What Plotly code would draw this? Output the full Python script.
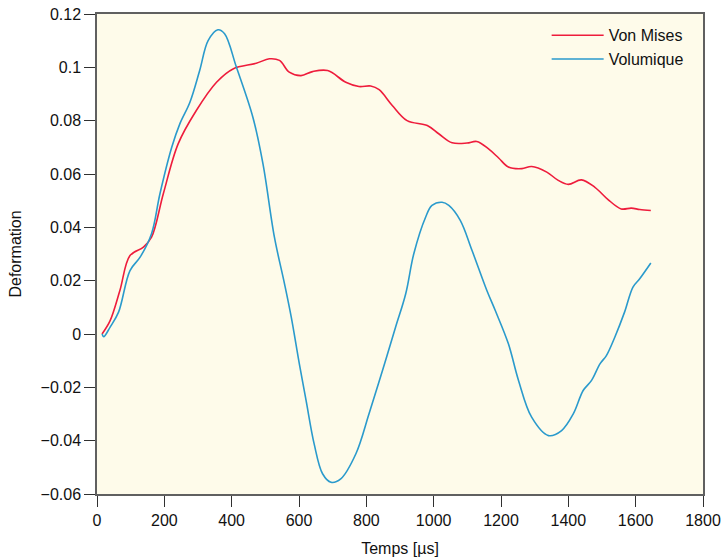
import plotly.graph_objects as go

# Von Mises series
x_vm = [15, 39, 68, 98, 138, 162, 197, 241, 295, 355, 404, 473, 512, 542, 571, 606, 640, 685,
        739, 778, 813, 838, 877, 921, 981, 1015, 1055, 1099, 1128, 1163, 1193, 1222, 1262, 1291,
        1336, 1370, 1400, 1439, 1479, 1518, 1557, 1587, 1612, 1645]
y_vm = [0, 0.005, 0.0163, 0.0294, 0.0326, 0.0363, 0.0526, 0.0713, 0.0838, 0.0944, 0.0994, 0.1015,
        0.1032, 0.1026, 0.0982, 0.0969, 0.0984, 0.0988, 0.0944, 0.0928, 0.093, 0.0916, 0.0857,
        0.080, 0.0782, 0.0751, 0.0717, 0.0716, 0.0722, 0.0694, 0.066, 0.0626, 0.062, 0.0628,
        0.0607, 0.0576, 0.0561, 0.0578, 0.055, 0.0504, 0.0469, 0.0472, 0.0467, 0.0463]

# Volumique series
x_vol = [15, 20, 39, 64, 98, 128, 162, 187, 222, 246, 276, 305, 330, 359, 379, 414, 463, 493, 527,
         557, 577, 601, 621, 645, 670, 695, 724, 769, 808, 848, 887, 917, 941, 976, 995, 1025, 1045,
         1079, 1114, 1158, 1183, 1222, 1252, 1291, 1341, 1380, 1415, 1444, 1469, 1494, 1513, 1538,
         1567, 1592, 1612, 1645]
y_vol = [0, -0.001, 0.0026, 0.0082, 0.0238, 0.0288, 0.0376, 0.0526, 0.070, 0.0788, 0.0869, 0.0988,
         0.110, 0.1141, 0.1126, 0.1001, 0.0813, 0.0638, 0.0363, 0.0188, 0.0063, -0.0112, -0.0249,
         -0.0412, -0.0524, -0.0556, -0.0543, -0.0449, -0.0299, -0.0137, 0.0026, 0.0151, 0.0301,
         0.0438, 0.0482, 0.0494, 0.0482, 0.0426, 0.0313, 0.0163, 0.0088, -0.0037, -0.0174, -0.0312,
         -0.0381, -0.0362, -0.0299, -0.0212, -0.0174, -0.0112, -0.0081, -0.0012, 0.0082, 0.0176,
         0.0207, 0.0266]

x_ticks = [0, 200, 400, 600, 800, 1000, 1200, 1400, 1600, 1800]
y_ticks = [-0.06, -0.04, -0.02, 0, 0.02, 0.04, 0.06, 0.08, 0.1, 0.12]
y_labels = ["\u22120.06", "\u22120.04", "\u22120.02", "0", "0.02", "0.04", "0.06", "0.08", "0.1", "0.12"]

FONT = "Liberation Sans, Arial, sans-serif"

fig = go.Figure()
fig.add_trace(go.Scatter(x=x_vm, y=y_vm, mode="lines", name="Von Mises",
                         line=dict(color="#EE1C3C", width=1.6, shape="spline", smoothing=1.0)))
fig.add_trace(go.Scatter(x=x_vol, y=y_vol, mode="lines", name="Volumique",
                         line=dict(color="#2A9ACC", width=1.6, shape="spline", smoothing=1.0)))

axis_common = dict(showgrid=False, zeroline=False, showline=True, linecolor="#606060",
                   linewidth=1.5, mirror=True, ticks="outside", ticklen=11, tickwidth=1.2,
                   tickcolor="#303030", automargin=False,
                   tickfont=dict(family=FONT, size=16, color="#111"))

fig.update_layout(
    width=725, height=557,
    margin=dict(l=97, r=22, t=14, b=63),
    paper_bgcolor="white",
    plot_bgcolor="#FEFBEA",
    font=dict(family=FONT, size=16, color="#111"),
    showlegend=True,
    legend=dict(x=0.742, y=0.991, xanchor="left", yanchor="top", bgcolor="rgba(0,0,0,0)",
                itemwidth=52, font=dict(family=FONT, size=16, color="#111"),
                tracegroupgap=0),
    xaxis=dict(range=[0, 1800], tickvals=x_ticks, ticktext=[str(v) for v in x_ticks],
               title=dict(text="Temps [\u00b5s]", font=dict(family=FONT, size=16)),
               **axis_common),
    yaxis=dict(range=[-0.06, 0.12], tickvals=y_ticks, ticktext=y_labels,
               title=dict(text="Deformation", font=dict(family=FONT, size=16)),
               **axis_common),
)

fig.write_html("out.html", config={"displayModeBar": False},
               post_script="document.body.style.margin='0';document.body.style.padding='0';")
